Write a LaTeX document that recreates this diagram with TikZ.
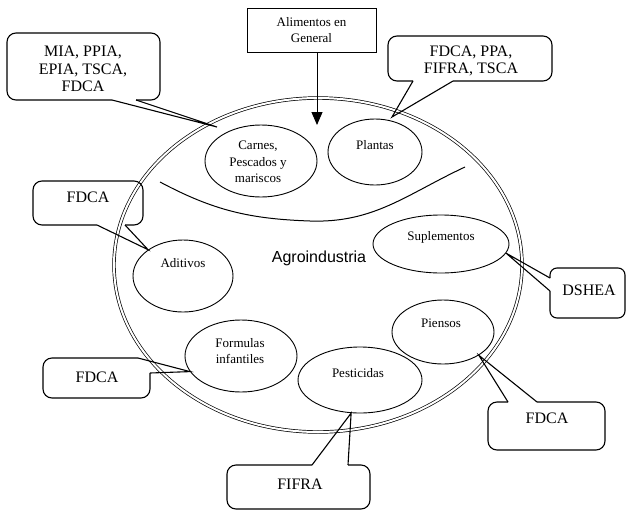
\documentclass[tikz,border=0pt]{standalone}
\usepackage{fontspec}
\setmainfont{Liberation Serif}
\newfontfamily\agrofont{Liberation Sans}
\usetikzlibrary{shapes.geometric,arrows.meta}

\tikzset{
	sector/.style={ellipse, draw, line width=0.9pt, inner sep=0pt},
	calloutline/.style={line width=1.1pt},
	boxline/.style={line width=1.1pt, rounded corners=9pt},
	ltext/.style={font=\fontsize{16}{17.5}\selectfont, align=center},
	stext/.style={font=\fontsize{13}{16.5}\selectfont, align=center}
}

\begin{document}
\begin{tikzpicture}[x=1pt,y=-1pt]
			\useasboundingbox (0,0) rectangle (627,512);
			%%%%% START %%%%%
			
			\draw[line width=0.7pt, double, double distance=2pt] (318,265) ellipse (204 and 167);
			
			\node[draw, line width=1pt, minimum width=129pt, minimum height=44pt, stext] (alim) at (311.5,30) {Alimentos en\\General};
			\coordinate (alimtip) at (317,125);
			\draw[line width=1pt, -{Triangle[width=11pt,length=13pt]}] (alim.south -| alimtip) -- (alimtip);
			
			\node[sector, minimum width=112pt, minimum height=72pt] (carnes) at (261,161) {};
			\node[stext] (carnestxt) at (258,162) {Carnes,\\Pescados y\\mariscos};
			\node[sector, minimum width=94pt, minimum height=66pt] (plantas) at (375,152) {};
			\node[stext] (plantastxt) at (375,145) {Plantas};
			
			\draw[line width=1pt] (160,182) to[out=-28,in=178] (310,221) to[out=-2,in=-155] (465,167);
			
			\node[font=\agrofont\fontsize{16}{19}\selectfont] (agro) at (319,258) {Agroindustria};
			
			\node[sector, minimum width=100pt, minimum height=72pt] (adit) at (183,276) {};
			\node[stext] (adittxt) at (183,263) {Aditivos};
			\node[sector, minimum width=136pt, minimum height=58pt] (supl) at (441,244) {};
			\node[stext] (supltxt) at (441,237) {Suplementos};
			\node[sector, minimum width=102pt, minimum height=64pt] (pien) at (443,332) {};
			\node[stext] (pientxt) at (441,323) {Piensos};
			\node[sector, minimum width=124pt, minimum height=66pt] (pest) at (360,380) {};
			\node[stext] (pesttxt) at (358,373) {Pesticidas};
			\node[sector, minimum width=112pt, minimum height=72pt] (form) at (241,356) {};
			\node[stext] (formtxt) at (240,351) {Formulas\\infantiles};
			
			% callouts
			\coordinate (miatip) at (217,127);
			\draw[boxline] (112,100) -- (7,100) -- (7,33) -- (160,33) -- (160,100) -- (136,100);
			\draw[calloutline] (112,100) -- (miatip) -- (136,100);
			\node[ltext] (mia) at (83,69) {MIA, PPIA,\\EPIA, TSCA,\\FDCA};
			
			\coordinate (plantip) at (392,117);
			\draw[boxline] (453,81) -- (552,81) -- (552,36) -- (388,36) -- (388,81) -- (413,81);
			\draw[calloutline] (413,81) -- (plantip) -- (453,81);
			\node[ltext] (fdcappa) at (471,61) {FDCA, PPA,\\FIFRA, TSCA};
			
			\draw[boxline] (125,225) -- (143,225) -- (143,181) -- (33,181) -- (33,225) -- (97,225);
			\draw[calloutline] (97,225) -- (adit.143) -- (125,225);
			\node[ltext] (fdcaadit) at (88,197) {FDCA};
			
			\draw[boxline, rounded corners=7pt] (550,278) -- (550,268) -- (625,268) -- (625,318) -- (550,318) -- (550,291);
			\draw[calloutline] (550,278) -- (supl.-8) -- (550,291);
			\node[ltext] (dshea) at (589,290) {DSHEA};
			
			\draw[boxline] (150,373) -- (150,398) -- (43,398) -- (43,358) -- (138,358);
			\draw[calloutline] (138,358) -- (form.197) -- (150,373);
			\node[ltext] (fdcaform) at (97,377) {FDCA};
			
			\draw[boxline] (348,465) -- (370,465) -- (370,509) -- (227,509) -- (227,465) -- (312,465);
			\draw[calloutline] (312,465) -- (pest.255) -- (348,465);
			\node[ltext] (fifra) at (300,484) {FIFRA};
			
			\draw[boxline] (537,402) -- (605,402) -- (605,450) -- (488,450) -- (488,402) -- (508,402);
			\draw[calloutline] (508,402) -- (pien.-33) -- (537,402);
			\node[ltext] (fdcapien) at (547,418) {FDCA};
			
			%%%%% END %%%%%
\end{tikzpicture}
\end{document}
